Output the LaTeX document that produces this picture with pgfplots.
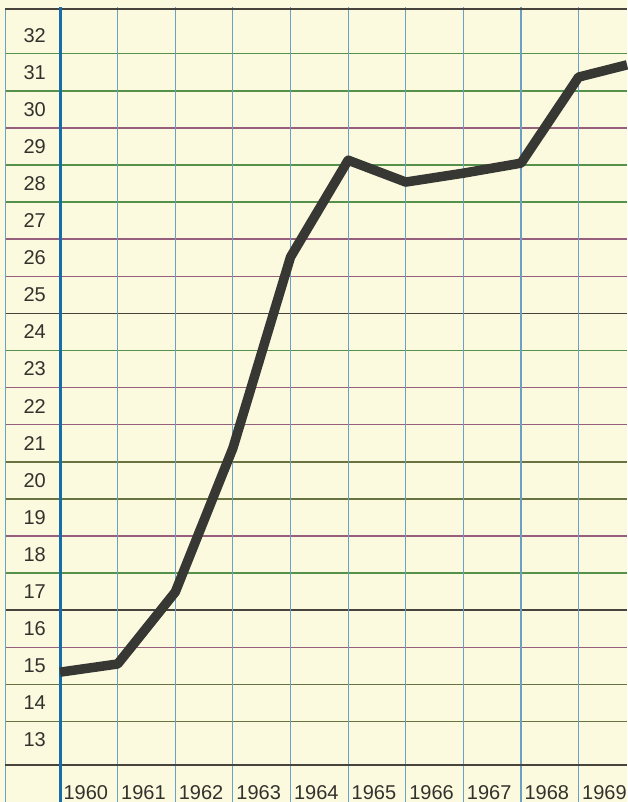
\documentclass[border=0pt]{standalone}
\usepackage{fontspec}
\setmainfont{Liberation Sans}
\usepackage{pgfplots}
\pgfplotsset{compat=1.18}
\definecolor{paper}{RGB}{252,250,222}
\definecolor{lgreen}{RGB}{85,145,75}
\definecolor{lmauve}{RGB}{150,95,125}
\definecolor{ldark}{RGB}{70,68,60}
\definecolor{lolive}{RGB}{105,115,65}
\definecolor{vblue}{RGB}{105,160,195}
\definecolor{mblue}{RGB}{20,110,170}
\definecolor{ink}{RGB}{55,55,52}
\definecolor{txt}{RGB}{50,50,45}
\begin{document}
\begin{tikzpicture}
\begin{axis}[
  set layers,
  scale only axis,
  width=567pt, height=755.7pt,
  xmin=1960, xmax=1969.84,
  ymin=12.327, ymax=32.697,
  clip=false,
  axis line style={draw=none},
  major tick length=0pt,
  ytick={13,14,...,32},
  xtick={1960.5,1961.5,1962.5,1963.5,1964.5,1965.5,1966.5,1967.5,1968.5,1969.5},
  xticklabels={1960,1961,1962,1963,1964,1965,1966,1967,1968,1969},
  /pgf/number format/assume math mode=true,
  ticklabel style={font=\fontsize{20}{24}\selectfont, text=txt},
  yticklabel style={anchor=east, inner sep=0pt, xshift=-14pt},
  xticklabel style={anchor=base, inner sep=0pt, yshift=-34pt, xshift=-3pt},
]
% paper
\begin{pgfonlayer}{axis background}
\fill[paper] (axis cs:1958.958,11.33) rectangle (axis cs:1969.84,32.948);
\end{pgfonlayer}
% horizontal rules
\draw[lgreen, line width=1.5pt] (axis cs:1959.045,31.5) -- (axis cs:1969.84,31.5);
\draw[lgreen, line width=1.5pt] (axis cs:1959.045,30.5) -- (axis cs:1969.84,30.5);
\draw[lmauve, line width=1.5pt] (axis cs:1959.045,29.5) -- (axis cs:1969.84,29.5);
\draw[lgreen, line width=1.5pt] (axis cs:1959.045,28.5) -- (axis cs:1969.84,28.5);
\draw[lgreen, line width=1.5pt] (axis cs:1959.045,27.5) -- (axis cs:1969.84,27.5);
\draw[lmauve, line width=1.5pt] (axis cs:1959.045,26.5) -- (axis cs:1969.84,26.5);
\draw[lmauve, line width=1.5pt] (axis cs:1959.045,25.5) -- (axis cs:1969.84,25.5);
\draw[ldark, line width=1.5pt] (axis cs:1959.045,24.5) -- (axis cs:1969.84,24.5);
\draw[lgreen, line width=1.5pt] (axis cs:1959.045,23.5) -- (axis cs:1969.84,23.5);
\draw[lmauve, line width=1.5pt] (axis cs:1959.045,22.5) -- (axis cs:1969.84,22.5);
\draw[lmauve, line width=1.5pt] (axis cs:1959.045,21.5) -- (axis cs:1969.84,21.5);
\draw[lolive, line width=1.5pt] (axis cs:1959.045,20.5) -- (axis cs:1969.84,20.5);
\draw[lolive, line width=1.5pt] (axis cs:1959.045,19.5) -- (axis cs:1969.84,19.5);
\draw[lmauve, line width=1.5pt] (axis cs:1959.045,18.5) -- (axis cs:1969.84,18.5);
\draw[lgreen, line width=1.5pt] (axis cs:1959.045,17.5) -- (axis cs:1969.84,17.5);
\draw[ldark, line width=1.5pt] (axis cs:1959.045,16.5) -- (axis cs:1969.84,16.5);
\draw[lmauve, line width=1.5pt] (axis cs:1959.045,15.5) -- (axis cs:1969.84,15.5);
\draw[lolive, line width=1.5pt] (axis cs:1959.045,14.5) -- (axis cs:1969.84,14.5);
\draw[lolive, line width=1.5pt] (axis cs:1959.045,13.5) -- (axis cs:1969.84,13.5);
% vertical rules
\draw[vblue, line width=0.9pt] (axis cs:1959.045,32.72) -- (axis cs:1959.045,11.33);
\draw[vblue, line width=1.1pt] (axis cs:1961,32.75) -- (axis cs:1961,11.33);
\draw[vblue, line width=1.1pt] (axis cs:1962,32.75) -- (axis cs:1962,11.33);
\draw[vblue, line width=1.1pt] (axis cs:1963,32.75) -- (axis cs:1963,11.33);
\draw[vblue, line width=1.1pt] (axis cs:1964,32.75) -- (axis cs:1964,11.33);
\draw[vblue, line width=1.1pt] (axis cs:1965,32.75) -- (axis cs:1965,11.33);
\draw[vblue, line width=1.1pt] (axis cs:1966,32.75) -- (axis cs:1966,11.33);
\draw[vblue, line width=1.1pt] (axis cs:1967,32.75) -- (axis cs:1967,11.33);
\draw[vblue, line width=1.1pt] (axis cs:1968,32.75) -- (axis cs:1968,11.33);
\draw[vblue, line width=1.1pt] (axis cs:1969,32.75) -- (axis cs:1969,11.33);
% top and bottom rules
\draw[ldark, line width=2pt] (axis cs:1959.045,32.697) -- (axis cs:1969.84,32.697);
\draw[ldark, line width=2.8pt] (axis cs:1959.045,12.327) -- (axis cs:1969.84,12.327);
% main blue line
\draw[mblue, line width=3pt] (axis cs:1960,32.75) -- (axis cs:1960,11.33);
% data
\addplot[ink, line width=9.5pt, line join=round] coordinates {
  (1960,14.83) (1961,15.05) (1962,16.99) (1963,20.87) (1964,26.02)
  (1965,28.63) (1966,28.04) (1967,28.28) (1968,28.55) (1969,30.87)
  (1969.84,31.20)
};
\coordinate (bl) at (axis cs:1958.958,11.33);
\coordinate (tr) at (axis cs:1969.84,32.948);
\end{axis}
\pgfresetboundingbox
\path[use as bounding box] (bl) rectangle (tr);
\end{tikzpicture}
\end{document}
